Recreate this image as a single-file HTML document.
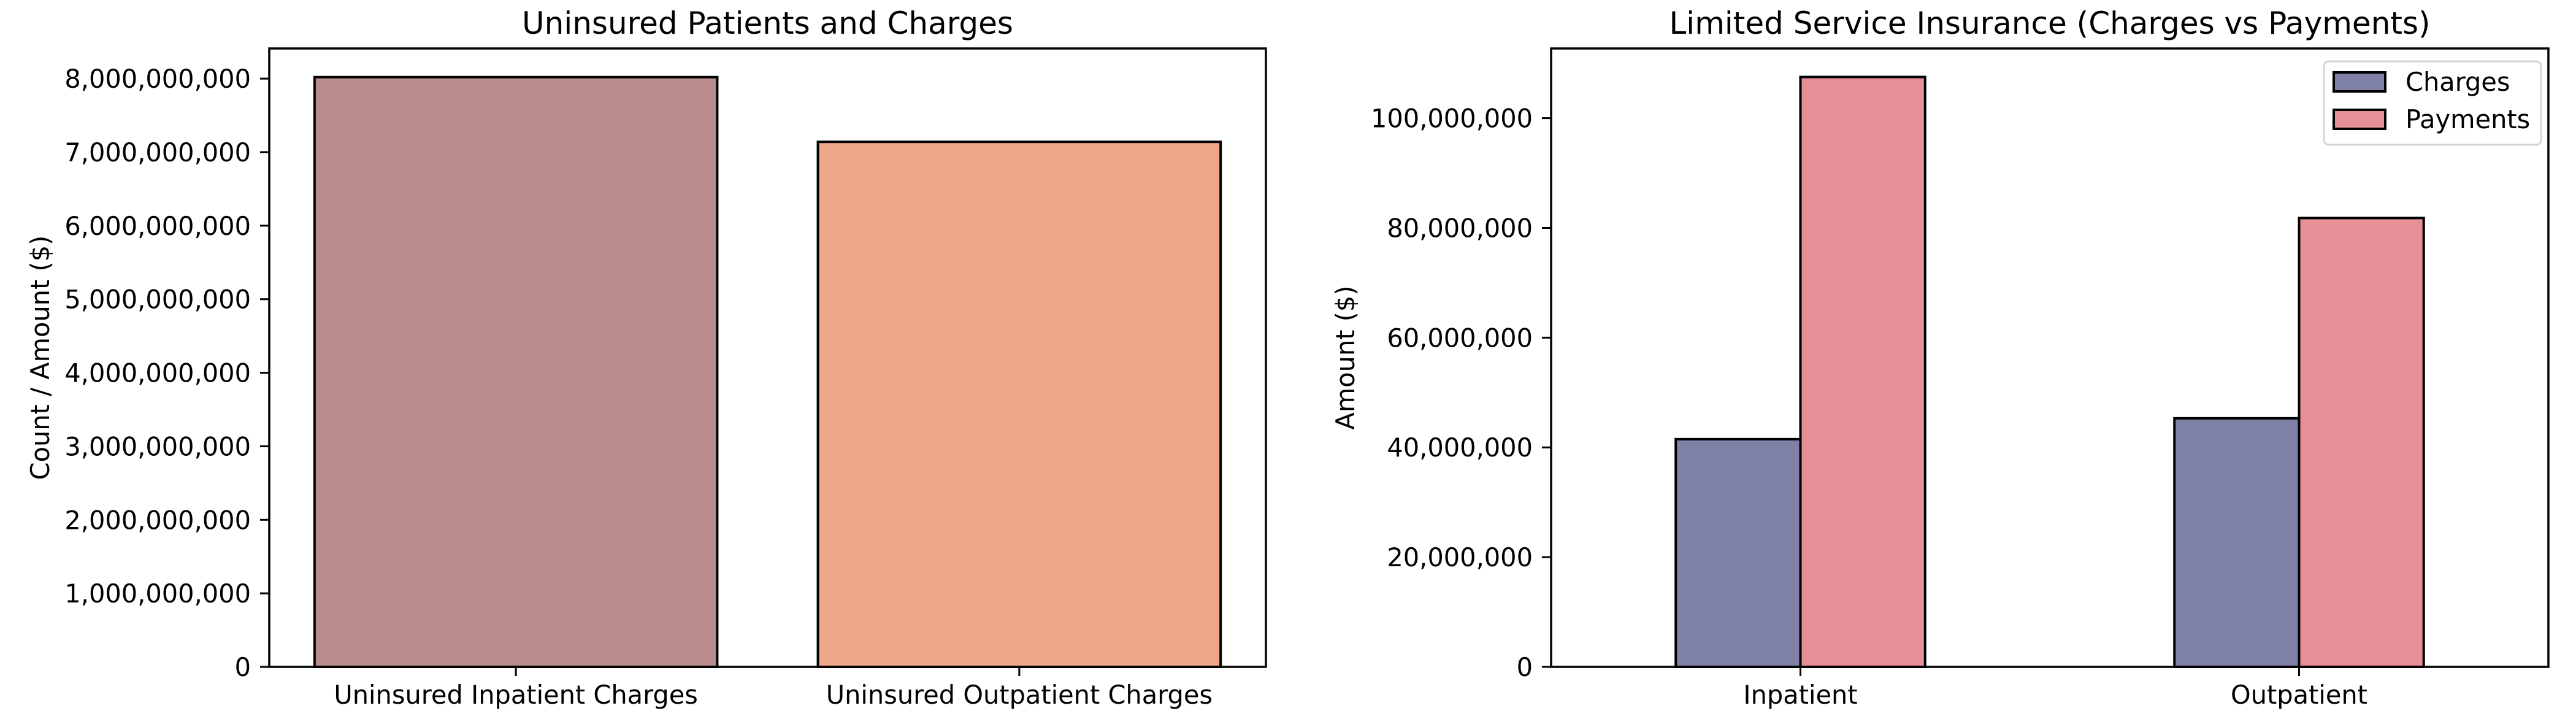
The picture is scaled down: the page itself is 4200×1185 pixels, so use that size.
<!DOCTYPE html>
<html><head><meta charset="utf-8"><style>
html,body{margin:0;padding:0;background:#fff;}
svg{display:block;font-family:"DejaVu Sans","Liberation Sans",sans-serif;}
</style></head><body>
<svg id="chart" width="4200" height="1185" viewBox="0 0 4200 1185" xmlns="http://www.w3.org/2000/svg"></svg>
<script>
// Left chart data
const leftCategories = ["Uninsured Inpatient Charges", "Uninsured Outpatient Charges"];
const leftValues = [8020000000, 7140000000];
const leftColors = ["#b98c8e", "#efa887"];
const leftTicks = [0, 1000000000, 2000000000, 3000000000, 4000000000, 5000000000, 6000000000, 7000000000, 8000000000];
// Right chart data
const rightCategories = ["Inpatient", "Outpatient"];
const rightSeriesNames = ["Charges", "Payments"];
const chargesValues = [41500000, 45300000];
const paymentsValues = [107500000, 81800000];
const rightTicks = [0, 20000000, 40000000, 60000000, 80000000, 100000000];

const NS = "http://www.w3.org/2000/svg";
const svgEl = document.getElementById("chart");
function mk(tag, attrs, parent) {
  const e = document.createElementNS(NS, tag);
  for (const k in attrs) e.setAttribute(k, attrs[k]);
  (parent || svgEl).appendChild(e);
  return e;
}
function fmt(v) { return v.toLocaleString("en-US"); }

const FS = 41.5;
const plotTop = 79, plotBottom = 1087;

// ---------- Left panel ----------
(function () {
  const L = 439, R = 2064;
  const xmin = -0.49, xmax = 1.49, ymax = 8.41e9;
  const xs = v => L + (v - xmin) / (xmax - xmin) * (R - L);
  const ys = v => plotBottom - v / ymax * (plotBottom - plotTop);
  const g = mk("g", {});
  
  
  leftValues.forEach((v, i) => {
    const r = mk("rect", { x: xs(i - 0.4), y: ys(v), width: xs(i + 0.4) - xs(i - 0.4), height: ys(0) - ys(v), fill: leftColors[i], stroke: "#000", "stroke-width": 4 }, g);
    
    
  });
  const ax = mk("rect", { x: L, y: plotTop, width: R - L, height: plotBottom - plotTop, fill: "none", stroke: "#000", "stroke-width": 3.5 }, g);
  
  
  leftTicks.forEach(t => {
    const y = ys(t);
    mk("line", { x1: L - 15, x2: L, y1: y, y2: y, stroke: "#000", "stroke-width": 3 }, g);
    const tx = mk("text", { x: L - 30, y: y + 15, "text-anchor": "end", "font-size": FS }, g);
    tx.textContent = fmt(t);
    
    
  });
  leftCategories.forEach((c, i) => {
    const x = xs(i);
    mk("line", { x1: x, x2: x, y1: plotBottom, y2: plotBottom + 15, stroke: "#000", "stroke-width": 3 }, g);
    const tx = mk("text", { x: x, y: 1147, "text-anchor": "middle", "font-size": FS }, g);
    tx.textContent = c;
    
    
  });
  const t = mk("text", { x: (L + R) / 2, y: 55, "text-anchor": "middle", "font-size": 50 }, g);
  t.textContent = "Uninsured Patients and Charges";
  
  
  const yl = mk("text", { x: 0, y: 0, "text-anchor": "middle", "font-size": FS, transform: "translate(80," + (plotTop + plotBottom) / 2 + ") rotate(-90)" }, g);
  yl.textContent = "Count / Amount ($)";
  
  
})();

// ---------- Right panel ----------
(function () {
  const L = 2529, R = 4155;
  const xmin = -0.5, xmax = 1.5, ymax = 112.7e6;
  const xs = v => L + (v - xmin) / (xmax - xmin) * (R - L);
  const ys = v => plotBottom - v / ymax * (plotBottom - plotTop);
  const w = 0.25;
  const colors = ["#7f81a7", "#e58f96"];
  const g = mk("g", {});
  
  
  [chargesValues, paymentsValues].forEach((series, s) => {
    series.forEach((v, i) => {
      const x0 = s === 0 ? i - w : i;
      const r = mk("rect", { x: xs(x0), y: ys(v), width: xs(x0 + w) - xs(x0), height: ys(0) - ys(v), fill: colors[s], stroke: "#000", "stroke-width": 4 }, g);
      
      
    });
  });
  const ax = mk("rect", { x: L, y: plotTop, width: R - L, height: plotBottom - plotTop, fill: "none", stroke: "#000", "stroke-width": 3.5 }, g);
  
  
  rightTicks.forEach(t => {
    const y = ys(t);
    mk("line", { x1: L - 15, x2: L, y1: y, y2: y, stroke: "#000", "stroke-width": 3 }, g);
    const tx = mk("text", { x: L - 30, y: y + 15, "text-anchor": "end", "font-size": FS }, g);
    tx.textContent = fmt(t);
    
    
  });
  rightCategories.forEach((c, i) => {
    const x = xs(i);
    mk("line", { x1: x, x2: x, y1: plotBottom, y2: plotBottom + 15, stroke: "#000", "stroke-width": 3 }, g);
    const tx = mk("text", { x: x, y: 1147, "text-anchor": "middle", "font-size": FS }, g);
    tx.textContent = c;
    
    
  });
  const t = mk("text", { x: (L + R) / 2, y: 55, "text-anchor": "middle", "font-size": 50 }, g);
  t.textContent = "Limited Service Insurance (Charges vs Payments)";
  
  
  const yl = mk("text", { x: 0, y: 0, "text-anchor": "middle", "font-size": FS, transform: "translate(2208," + (plotTop + plotBottom) / 2 + ") rotate(-90)" }, g);
  yl.textContent = "Amount ($)";
  
  
  // legend
  const lg = mk("g", {}, g);
  
  
  mk("rect", { x: 3789, y: 100, width: 354, height: 136, rx: 8, fill: "#fff", stroke: "#d0d0d0", "stroke-width": 3, opacity: 0.9 }, lg);
  rightSeriesNames.forEach((n, s) => {
    const y = 118 + s * 61;
    const p = mk("rect", { x: 3805, y: y, width: 84, height: 31, fill: colors[s], stroke: "#000", "stroke-width": 4 }, lg);
    
    
    const tx = mk("text", { x: 3922, y: y + 30, "font-size": FS }, lg);
    tx.textContent = n;
    
    
  });
})();
</script>
</body></html>
